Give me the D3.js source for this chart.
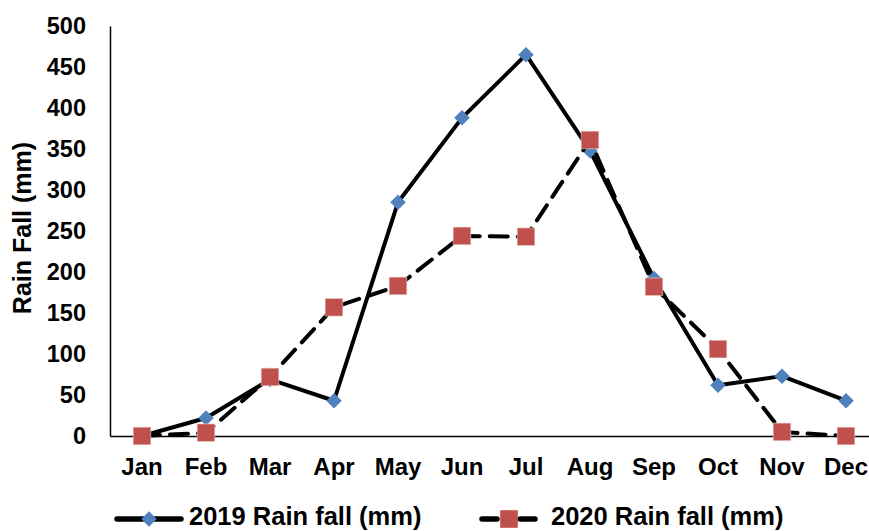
<!DOCTYPE html>
<html>
<head>
<meta charset="utf-8">
<script src="https://cdn.jsdelivr.net/npm/d3@7"></script>
<style>
  html, body { margin: 0; padding: 0; background: #fff; }
  svg { display: block; font-family: "Liberation Sans", Arial, sans-serif; font-weight: bold; }
</style>
</head>
<body>
<svg id="chart" width="869" height="531"></svg>
<script>
// Monthly rainfall, two years
const months = ["Jan", "Feb", "Mar", "Apr", "May", "Jun", "Jul", "Aug", "Sep", "Oct", "Nov", "Dec"];
const rain2019 = [0, 22, 69, 43, 285, 388, 465, 348, 192, 62, 73, 43];
const rain2020 = [0, 4, 72, 157, 183, 244, 243, 361, 182, 106, 5, 0];
const yTicks = [0, 50, 100, 150, 200, 250, 300, 350, 400, 450, 500];
const seriesNames = ["2019 Rain fall (mm)", "2020 Rain fall (mm)"];

const svg = d3.select("#chart");
const plotLeft = 110, plotRight = 878, plotTop = 26, plotBottom = 436;
const labelFont = "Liberation Sans, Arial, sans-serif";

const x = d3.scaleBand().domain(months).range([plotLeft, plotRight]).paddingInner(0).paddingOuter(0);
const cx = m => x(m) + x.bandwidth() / 2;
const y = d3.scaleLinear().domain([0, 500]).range([plotBottom, plotTop]);

// Y axis
const yAxis = svg.append("g")
  .attr("transform", `translate(${plotLeft},0)`)
  .call(d3.axisLeft(y).tickValues(yTicks).tickSize(0).tickPadding(24));
yAxis.select(".domain").attr("stroke", "#000").attr("stroke-width", 1.5);
yAxis.selectAll("text").attr("font-size", 23.5).attr("font-weight", "bold")
  .attr("font-family", labelFont).attr("fill", "#000");

// X axis
const xAxis = svg.append("g")
  .attr("transform", `translate(0,${plotBottom})`)
  .call(d3.axisBottom(x).tickSize(0).tickPadding(22));
xAxis.select(".domain").attr("stroke", "#000").attr("stroke-width", 1.5);
xAxis.selectAll("text").attr("font-size", 24).attr("font-weight", "bold")
  .attr("font-family", labelFont).attr("fill", "#000");

// Y axis title
svg.append("text")
  .attr("transform", "translate(31,228) rotate(-90)")
  .attr("text-anchor", "middle")
  .attr("font-size", 25)
  .text("Rain Fall (mm)");

const line = d3.line().x((d, i) => cx(months[i])).y(d => y(d));

const diamond = d3.symbol().type(d3.symbolSquare).size(120);
const square = d3.symbol().type(d3.symbolSquare).size(310);

// 2019 series: solid line, blue diamonds
svg.append("path").datum(rain2019)
  .attr("d", line).attr("fill", "none").attr("stroke", "#000")
  .attr("stroke-width", 4).attr("stroke-linejoin", "round");
svg.selectAll(".m2019").data(rain2019).join("path")
  .attr("class", "m2019")
  .attr("d", diamond)
  .attr("transform", (d, i) => `translate(${cx(months[i])},${y(d)}) rotate(45)`)
  .attr("fill", "#4F81BD");

// 2020 series: dashed line, red squares
svg.append("path").datum(rain2020)
  .attr("d", line).attr("fill", "none").attr("stroke", "#000")
  .attr("stroke-width", 4).attr("stroke-dasharray", "18,10").attr("stroke-linecap", "round");
svg.selectAll(".m2020").data(rain2020).join("path")
  .attr("class", "m2020")
  .attr("d", square)
  .attr("transform", (d, i) => `translate(${cx(months[i])},${y(d)})`)
  .attr("fill", "#C0504D").attr("stroke", "#e8d8c8").attr("stroke-width", 0.6);

// Legend
const legend = svg.append("g");
const lg1 = legend.append("g");
lg1.append("line").attr("x1", 117).attr("x2", 181).attr("y1", 519).attr("y2", 519)
  .attr("stroke", "#000").attr("stroke-width", 5.5).attr("stroke-linecap", "round");
lg1.append("path").attr("d", diamond).attr("transform", "translate(149,519) rotate(45)").attr("fill", "#4F81BD");
lg1.append("text").attr("x", 189).attr("y", 525).attr("font-size", 25.5).text(seriesNames[0]);

const lg2 = legend.append("g");
lg2.append("line").attr("x1", 482).attr("x2", 497).attr("y1", 519).attr("y2", 519)
  .attr("stroke", "#000").attr("stroke-width", 5.5).attr("stroke-linecap", "round");
lg2.append("line").attr("x1", 520).attr("x2", 535).attr("y1", 519).attr("y2", 519)
  .attr("stroke", "#000").attr("stroke-width", 5.5).attr("stroke-linecap", "round");
lg2.append("path").attr("d", square).attr("transform", "translate(509,519)").attr("fill", "#C0504D");
lg2.append("text").attr("x", 551).attr("y", 525).attr("font-size", 25.5).text(seriesNames[1]);
</script>
</body>
</html>
